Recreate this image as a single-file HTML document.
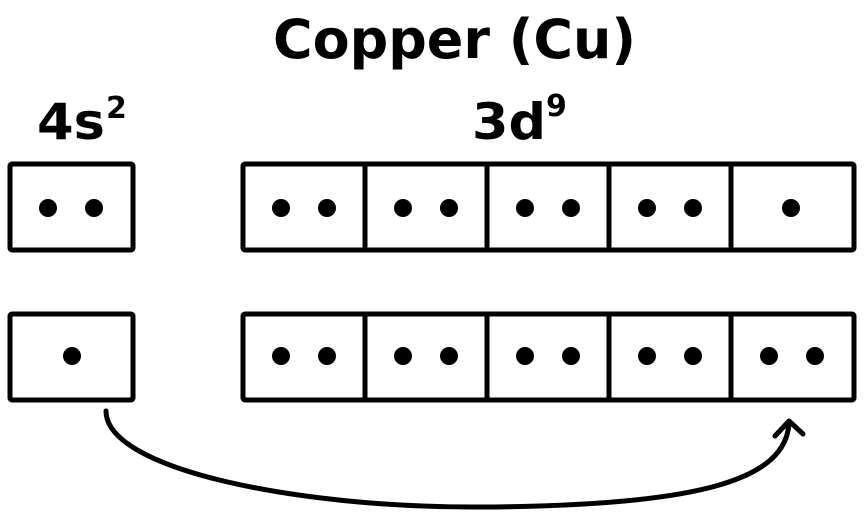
<!DOCTYPE html>
<html><head><meta charset="utf-8"><style>html,body{margin:0;padding:0;background:#fff}svg{display:block}</style></head>
<body>
<svg width="868" height="516" viewBox="0 0 868 516" xmlns="http://www.w3.org/2000/svg">
<g font-family="DejaVu Sans, Liberation Sans, sans-serif" font-weight="bold" fill="#000">
<text x="273" y="58" font-size="54" textLength="363" lengthAdjust="spacingAndGlyphs">Copper (Cu)</text>
<text x="37" y="139" font-size="50" textLength="68" lengthAdjust="spacingAndGlyphs">4s</text>
<text x="106" y="118" font-size="30">2</text>
<text x="472" y="139" font-size="50" textLength="74" lengthAdjust="spacingAndGlyphs">3d</text>
<text x="546" y="116" font-size="30">9</text>
</g>
<g fill="none" stroke="#000" stroke-width="5" stroke-linejoin="round">
<rect x="10" y="164" width="123" height="86" rx="2"/>
<rect x="10" y="314" width="123" height="86" rx="2"/>
<rect x="243" y="164" width="611" height="86" rx="2"/>
<rect x="243" y="314" width="611" height="86" rx="2"/>
<path d="M365 164V250M487 164V250M609 164V250M731 164V250M365 314V400M487 314V400M609 314V400M731 314V400"/>
</g>
<g fill="#000">
<circle cx="48" cy="208" r="9"/><circle cx="94" cy="208" r="9"/>
<circle cx="281" cy="208" r="9"/><circle cx="327" cy="208" r="9"/>
<circle cx="403" cy="208" r="9"/><circle cx="449" cy="208" r="9"/>
<circle cx="525" cy="208" r="9"/><circle cx="571" cy="208" r="9"/>
<circle cx="647" cy="208" r="9"/><circle cx="693" cy="208" r="9"/>
<circle cx="791" cy="208" r="9"/>
<circle cx="72" cy="356" r="9"/>
<circle cx="281" cy="356" r="9"/><circle cx="327" cy="356" r="9"/>
<circle cx="403" cy="356" r="9"/><circle cx="449" cy="356" r="9"/>
<circle cx="525" cy="356" r="9"/><circle cx="571" cy="356" r="9"/>
<circle cx="647" cy="356" r="9"/><circle cx="693" cy="356" r="9"/>
<circle cx="769" cy="356" r="9"/><circle cx="815" cy="356" r="9"/>
</g>
<g fill="none" stroke="#000" stroke-width="5" stroke-linecap="round" stroke-linejoin="round">
<path d="M106 411 C106 470 300 508 480 507 C700 506 787 480 789 422"/>
<path d="M775 436 L789 421 L803 434"/>
</g>
</svg>
</body></html>
